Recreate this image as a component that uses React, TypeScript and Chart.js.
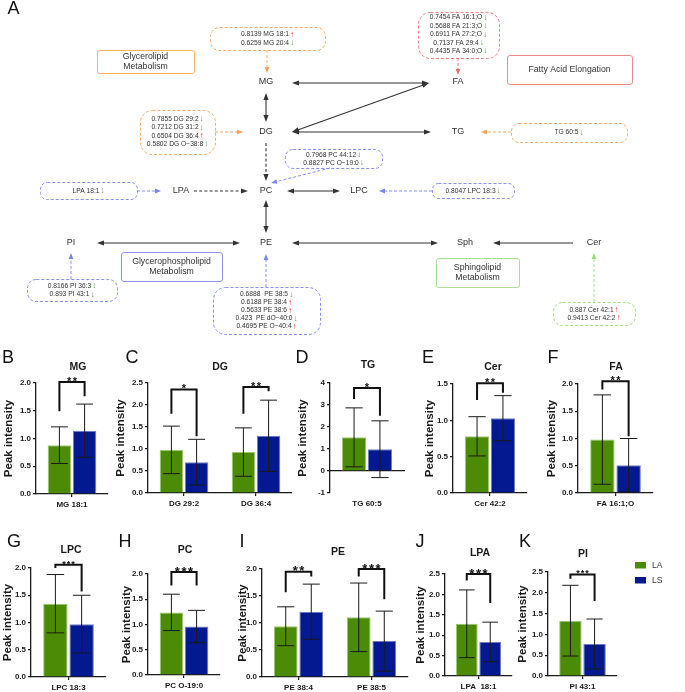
import React, { useEffect, useRef } from 'react';
import { Chart, registerables } from 'chart.js';
Chart.register(...registerables);

const FONT = '"Liberation Sans", Arial, Helvetica, "DejaVu Sans", sans-serif';
const GREEN = '#4c8b05';
const BLUE = '#04198f';
const INK = '#1a1a1a';
const TXT = '#333333';

// ---------------- Panel A data ----------------
const nodeLabels = ['MG', 'FA', 'DG', 'TG', 'LPA', 'PC', 'LPC', 'PI', 'PE', 'Sph', 'Cer'];
const mgAnno = [['0.8139 MG 18:1', 'up'], ['0.6259 MG 20:4', 'down']];
const faAnno = [['0.7454 FA 16:1;O', 'down'], ['0.5688 FA 21:3;O', 'down'], ['0.6911 FA 27:2;O', 'down'], ['0.7137 FA 29:4', 'down'], ['0.4435 FA 34:0;O', 'down']];
const tgAnno = [['TG 60:5', 'down']];
const dgAnno = [['0.7855 DG 29:2', 'down'], ['0.7212 DG 31:2', 'down'], ['0.6504 DG 36:4', 'up'], ['0.5802 DG O\u221238:8', 'down']];
const pcAnno = [['0.7968 PC 44:12', 'down'], ['0.8827 PC O\u221219:0', 'down']];
const lpaAnno = [['LPA 18:1', 'down']];
const lpcAnno = [['0.8047 LPC 18:3', 'down']];
const piAnno = [['0.8166 PI 36:3', 'down'], ['0.893 PI 43:1', 'down']];
const peAnno = [['0.6888  PE 38:5', 'down'], ['0.6188 PE 38:4', 'up'], ['0.5633 PE 38:6', 'up'], ['0.423  PE dO\u221240:0', 'down'], ['0.4695 PE O\u221240:4', 'up']];
const cerAnno = [['0.887 Cer 42:1', 'up'], ['0.9413 Cer 42:2', 'up']];
const pathwayNames = [['Glycerolipid', 'Metabolism'], ['Fatty Acid Elongation'], ['Glycerophospholipid', 'Metabolism'], ['Sphingolipid', 'Metabolism']];

// ---------------- Panels B–K data ----------------
const mgCats = ['MG 18:1'];
const mgLA = [0.88];
const mgLAsd = [0.33];
const mgLS = [1.14];
const mgLSsd = [0.48];
const mgSig = ['**'];
const mgBr = [[2.02, 1.49, 1.76]];

const dgCats = ['DG 29:2', 'DG 36:4'];
const dgLA = [0.98, 0.93];
const dgLAsd = [0.54, 0.55];
const dgLS = [0.7, 1.3];
const dgLSsd = [0.52, 0.81];
const dgSig = ['*', '**'];
const dgBr = [[2.35, 1.8, 1.29], [2.41, 1.8, 2.31]];

const tgCats = ['TG 60:5'];
const tgLA = [1.53];
const tgLAsd = [1.34];
const tgLS = [0.99];
const tgLSsd = [1.29];
const tgSig = ['*'];
const tgBr = [[3.77, 3.27, 2.51]];

const cerCats = ['Cer 42:2'];
const cerLA = [0.78];
const cerLAsd = [0.27];
const cerLS = [1.03];
const cerLSsd = [0.31];
const cerSig = ['**'];
const cerBr = [[1.51, 1.28, 1.38]];

const faCats = ['FA 16:1;O'];
const faLA = [0.98];
const faLAsd = [0.82];
const faLS = [0.51];
const faLSsd = [0.49];
const faSig = ['**'];
const faBr = [[2.05, 1.9, 1.04]];

const lpcCats = ['LPC 18:3'];
const lpcLA = [1.345];
const lpcLAsd = [0.535];
const lpcLS = [0.97];
const lpcLSsd = [0.53];
const lpcSig = ['***'];
const lpcBr = [[2.06, 2.0, 1.57]];

const pcCats = ['PC O-19:0'];
const pcLA = [1.24];
const pcLAsd = [0.36];
const pcLS = [0.96];
const pcLSsd = [0.32];
const pcSig = ['***'];
const pcBr = [[2.04, 1.77, 1.77]];

const peCats = ['PE 38:4', 'PE 38:5'];
const peLA = [0.94, 1.105];
const peLAsd = [0.36, 0.635];
const peLS = [1.21, 0.665];
const peLSsd = [0.51, 0.555];
const peSig = ['**', '***'];
const peBr = [[1.95, 1.57, 1.86], [2.0, 1.86, 1.44]];

const lpaCats = ['LPA  18:1'];
const lpaLA = [1.28];
const lpaLAsd = [0.83];
const lpaLS = [0.835];
const lpaLSsd = [0.485];
const lpaSig = ['***'];
const lpaBr = [[2.5, 2.34, 1.79]];

const piCats = ['PI 43:1'];
const piLA = [1.33];
const piLAsd = [0.85];
const piLS = [0.77];
const piLSsd = [0.6];
const piSig = ['***'];
const piBr = [[2.44, 2.34, 1.8]];

const groupNames = ['LA', 'LS'];

// ---------------- layout ----------------
const panels: any[] = [
  { letter: 'B', lp: [8, 358], title: 'MG', tp: [78, 367], cats: mgCats, la: mgLA, laSd: mgLAsd, ls: mgLS, lsSd: mgLSsd, sig: mgSig, br: mgBr, area: { l: 36, r: 108, t: 383, b: 494 }, y: [0, 2, 0.5, 1], ytx: 9, sf: 11, padR: 8 },
  { letter: 'C', lp: [132, 358], title: 'DG', tp: [220, 367], cats: dgCats, la: dgLA, laSd: dgLAsd, ls: dgLS, lsSd: dgLSsd, sig: dgSig, br: dgBr, area: { l: 148, r: 292, t: 383, b: 493 }, y: [0, 2.5, 0.5, 1], ytx: 121, sf: 11, padR: 8 },
  { letter: 'D', lp: [302, 358], title: 'TG', tp: [368, 365], cats: tgCats, la: tgLA, laSd: tgLAsd, ls: tgLS, lsSd: tgLSsd, sig: tgSig, br: tgBr, area: { l: 330, r: 404, t: 383, b: 493 }, y: [-1, 4, 1, 0], ytx: 303, sf: 11, padR: 8, zeroAxis: true },
  { letter: 'E', lp: [428, 358], title: 'Cer', tp: [493, 367], cats: cerCats, la: cerLA, laSd: cerLAsd, ls: cerLS, lsSd: cerLSsd, sig: cerSig, br: cerBr, area: { l: 453, r: 527, t: 384, b: 493 }, y: [0, 1.5, 0.5, 1], ytx: 430, sf: 11, padR: 8 },
  { letter: 'F', lp: [553, 358], title: 'FA', tp: [616, 367], cats: faCats, la: faLA, laSd: faLAsd, ls: faLS, lsSd: faLSsd, sig: faSig, br: faBr, area: { l: 578, r: 653, t: 384, b: 493 }, y: [0, 2, 0.5, 1], ytx: 552, sf: 11, padR: 8 },
  { letter: 'G', lp: [14, 542], title: 'LPC', tp: [71, 550], cats: lpcCats, la: lpcLA, laSd: lpcLAsd, ls: lpcLS, lsSd: lpcLSsd, sig: lpcSig, br: lpcBr, area: { l: 31, r: 106, t: 568, b: 677 }, y: [0, 2, 0.5, 1], ytx: 8, sf: 9, padR: 8 },
  { letter: 'H', lp: [125, 542], title: 'PC', tp: [185, 550], cats: pcCats, la: pcLA, laSd: pcLAsd, ls: pcLS, lsSd: pcLSsd, sig: pcSig, br: pcBr, area: { l: 148, r: 220, t: 574, b: 675 }, y: [0, 2, 0.5, 1], ytx: 127, sf: 13, padR: 8 },
  { letter: 'I', lp: [242, 542], title: 'PE', tp: [338, 552], cats: peCats, la: peLA, laSd: peLAsd, ls: peLS, lsSd: peLSsd, sig: peSig, br: peBr, area: { l: 262, r: 408, t: 569, b: 677 }, y: [0, 2, 0.5, 1], ytx: 243, sf: 13, padR: 8 },
  { letter: 'J', lp: [420, 542], title: 'LPA', tp: [480, 553], cats: lpaCats, la: lpaLA, laSd: lpaLAsd, ls: lpaLS, lsSd: lpaLSsd, sig: lpaSig, br: lpaBr, area: { l: 445, r: 512, t: 574, b: 676 }, y: [0, 2.5, 0.5, 1], ytx: 421, sf: 13, padR: 8 },
  { letter: 'K', lp: [525, 542], title: 'PI', tp: [583, 554], cats: piCats, la: piLA, laSd: piLAsd, ls: piLS, lsSd: piLSsd, sig: piSig, br: piBr, area: { l: 548, r: 617, t: 572, b: 676 }, y: [0, 2.5, 0.5, 1], ytx: 523, sf: 9, padR: 64, legend: true },
];

const PAD_L = 45;
const PAD_T = 48;
const PAD_B = 20;

function BarPanel({ p }: { p: any }) {
  const ref = useRef<HTMLCanvasElement>(null);
  const cl = p.area.l - PAD_L;
  const ct = p.area.t - PAD_T;
  const cw = p.area.r + p.padR - cl;
  const ch = p.area.b + PAD_B - ct;
  useEffect(() => {
    const canvas = ref.current!;
    const means = [p.la, p.ls];
    const sds = [p.laSd, p.lsSd];
    const X = (x: number) => x - cl;
    const Y = (y: number) => y - ct;
    const plugin = {
      id: 'extras',
      afterDatasetsDraw(chart: any) {
        const ctx = chart.ctx;
        const ys = chart.scales.y;
        ctx.save();
        ctx.strokeStyle = INK;
        ctx.lineWidth = 1;
        [0, 1].forEach((di) => {
          const meta = chart.getDatasetMeta(di);
          meta.data.forEach((bar: any, i: number) => {
            const m = means[di][i];
            const s = sds[di][i];
            const x = bar.x;
            const hw = bar.width * 0.36;
            const yHi = ys.getPixelForValue(m + s);
            const yLo = ys.getPixelForValue(m - s);
            ctx.beginPath();
            ctx.moveTo(x, yLo);
            ctx.lineTo(x, yHi);
            ctx.moveTo(x - hw, yHi);
            ctx.lineTo(x + hw, yHi);
            ctx.moveTo(x - hw, yLo);
            ctx.lineTo(x + hw, yLo);
            ctx.stroke();
          });
        });
        ctx.restore();
      },
      afterDraw(chart: any) {
        const ctx = chart.ctx;
        const ys = chart.scales.y;
        const m0 = chart.getDatasetMeta(0);
        const m1 = chart.getDatasetMeta(1);
        ctx.save();
        // significance brackets
        p.br.forEach((b: number[], i: number) => {
          const xL = m0.data[i].x;
          const xR = m1.data[i].x;
          const yT = ys.getPixelForValue(b[0]);
          const yL = ys.getPixelForValue(b[1]);
          const yR = ys.getPixelForValue(b[2]);
          ctx.strokeStyle = '#111';
          ctx.lineWidth = 2;
          ctx.lineJoin = 'miter';
          ctx.lineCap = 'butt';
          ctx.beginPath();
          ctx.moveTo(xL, yL);
          ctx.lineTo(xL, yT);
          ctx.lineTo(xR, yT);
          ctx.lineTo(xR, yR);
          ctx.stroke();
          const stars = p.sig[i];
          ctx.font = `bold ${p.sf}px ${FONT}`;
          ctx.fillStyle = '#111';
          ctx.textAlign = 'left';
          ctx.textBaseline = 'alphabetic';
          const cw1 = ctx.measureText('*').width;
          const gap = p.sf * 0.12;
          const tot = stars.length * cw1 + (stars.length - 1) * gap;
          let sx = (xL + xR) / 2 - tot / 2;
          const by = yT - 1.8 + 0.42 * p.sf;
          for (let k = 0; k < stars.length; k++) {
            ctx.fillText('*', sx, by);
            sx += cw1 + gap;
          }
        });
        // title
        ctx.fillStyle = INK;
        ctx.textAlign = 'center';
        ctx.textBaseline = 'middle';
        ctx.font = `bold 10.5px ${FONT}`;
        ctx.fillText(p.title, X(p.tp[0]), Y(p.tp[1]));
        // letter
        ctx.font = `18px ${FONT}`;
        ctx.fillStyle = '#111';
        ctx.fillText(p.letter, X(p.lp[0]), Y(p.lp[1]));
        // y title
        ctx.save();
        ctx.translate(X(p.ytx), Y((p.area.t + p.area.b) / 2));
        ctx.rotate(-Math.PI / 2);
        ctx.font = `bold 11.5px ${FONT}`;
        ctx.fillStyle = INK;
        ctx.fillText('Peak intensity', 0, 0);
        ctx.restore();
        // legend
        if (p.legend) {
          const cols = [GREEN, BLUE];
          groupNames.forEach((g, i) => {
            ctx.fillStyle = cols[i];
            ctx.fillRect(X(635), Y(562 + i * 15), 11, 6.5);
            ctx.fillStyle = TXT;
            ctx.font = `8.5px ${FONT}`;
            ctx.textAlign = 'left';
            ctx.textBaseline = 'middle';
            ctx.fillText(g, X(652), Y(565.5 + i * 15));
          });
        }
        ctx.restore();
      },
    };
    const tickFont = { family: FONT, size: 8, weight: 'bold' as const };
    const scales: any = {
      y: {
        min: p.y[0],
        max: p.y[1],
        ticks: { stepSize: p.y[2], callback: (v: any) => Number(v).toFixed(p.y[3]), font: tickFont, color: INK, padding: 2 },
        grid: { display: true, drawOnChartArea: false, drawTicks: true, tickLength: 3, color: INK, lineWidth: 1.2 },
        border: { display: true, color: INK, width: 1.3 },
        afterFit: (s: any) => { s.width = PAD_L; },
      },
    };
    if (p.zeroAxis) {
      scales.x = {
        type: 'category',
        position: { y: 0 },
        ticks: { display: false },
        grid: { display: false, drawTicks: false },
        border: { display: true, color: INK, width: 1.3 },
      };
      scales.x2 = {
        type: 'category',
        labels: p.cats,
        position: 'bottom',
        ticks: { font: tickFont, color: INK, padding: 6 },
        grid: { display: false, drawTicks: false },
        border: { display: false },
        afterFit: (s: any) => { s.height = PAD_B; },
      };
    } else {
      scales.x = {
        type: 'category',
        position: 'bottom',
        ticks: { font: tickFont, color: INK, padding: 3 },
        grid: { display: true, drawOnChartArea: false, drawTicks: true, tickLength: 3, offset: false, color: INK, lineWidth: 1.2 },
        border: { display: true, color: INK, width: 1.3 },
        afterFit: (s: any) => { s.height = PAD_B; },
      };
    }
    const chart = new Chart(canvas, {
      type: 'bar',
      data: {
        labels: p.cats,
        datasets: [
          { label: groupNames[0], data: p.la, backgroundColor: GREEN, borderColor: '#9cc870', borderWidth: 1, categoryPercentage: 0.7, barPercentage: 0.93 },
          { label: groupNames[1], data: p.ls, backgroundColor: BLUE, borderColor: '#6f7ac4', borderWidth: 1, categoryPercentage: 0.7, barPercentage: 0.93 },
        ],
      },
      options: {
        responsive: false,
        animation: false,
        layout: { padding: { top: PAD_T, right: p.padR, left: 0, bottom: 0 } },
        plugins: { legend: { display: false }, tooltip: { enabled: false }, title: { display: false } },
        scales,
      },
      plugins: [plugin],
    } as any);
    return () => chart.destroy();
  }, []);
  return <canvas ref={ref} width={cw} height={ch} style={{ position: 'absolute', left: cl, top: ct, width: cw, height: ch }} />;
}

// ---------------- Panel A ----------------
const ORANGE_D = '#f4a35a';
const RED_D = '#ee6f72';
const BLUE_D = '#7a84f2';
const GREEN_D = '#9ad97a';

const nodePos: Record<string, number[]> = {
  MG: [266, 82], FA: [458, 82], DG: [266, 132], TG: [458, 132], LPA: [181, 191], PC: [266, 191],
  LPC: [359, 191], PI: [71, 243], PE: [266, 243], Sph: [465, 243], Cer: [594, 243],
};

const annoBoxes = [
  { lines: mgAnno, color: ORANGE_D, rect: [210, 27, 325, 50], y0: 34.5, dy: 8.5, arrow: [[267, 50], [267, 73]] },
  { lines: faAnno, color: RED_D, rect: [418, 12, 499, 58], y0: 17.5, dy: 8.4, arrow: [[458, 58], [458, 75]] },
  { lines: tgAnno, color: ORANGE_D, rect: [511, 123, 627, 142], y0: 132.5, dy: 0, arrow: [[511, 132], [481, 132]] },
  { lines: dgAnno, color: ORANGE_D, rect: [140, 110, 215, 154], y0: 119, dy: 8.4, arrow: [[215, 132], [243, 132]] },
  { lines: pcAnno, color: BLUE_D, rect: [285, 149, 382, 168], y0: 155, dy: 8, arrow: [[330, 168], [271, 183]] },
  { lines: lpaAnno, color: BLUE_D, rect: [40, 182, 137, 199], y0: 191, dy: 0, arrow: [[137, 191], [161, 191]] },
  { lines: lpcAnno, color: BLUE_D, rect: [432, 183, 514, 198], y0: 191, dy: 0, arrow: [[432, 191], [379, 191]] },
  { lines: piAnno, color: BLUE_D, rect: [27, 279, 117, 301], y0: 286, dy: 8.5, arrow: [[71, 279], [71, 253]] },
  { lines: peAnno, color: BLUE_D, rect: [213, 287, 320, 334], y0: 294.5, dy: 8, arrow: [[266, 287], [266, 254]] },
  { lines: cerAnno, color: GREEN_D, rect: [553, 302, 635, 325], y0: 310, dy: 8, arrow: [[594, 302], [594, 253]] },
];

const pathBoxes = [
  { color: '#f5b06a', rect: [97, 50, 194, 73] },
  { color: '#ef8a8c', rect: [507, 55, 632, 84] },
  { color: '#8e94ee', rect: [121, 252, 222, 281] },
  { color: '#acdf95', rect: [436, 258, 519, 287] },
];

const links = [
  { from: [266, 93], to: [266, 122], heads: 2 },
  { from: [292, 83], to: [429, 83], heads: 2 },
  { from: [292, 132], to: [429, 83], heads: 2 },
  { from: [292, 132], to: [431, 132], heads: 2 },
  { from: [287, 191], to: [340, 191], heads: 2 },
  { from: [266, 200], to: [266, 233], heads: 2 },
  { from: [97, 243], to: [240, 243], heads: 2 },
  { from: [292, 243], to: [438, 243], heads: 2 },
  { from: [573, 243], to: [493, 243], heads: 1 },
  { from: [266, 143], to: [266, 181], heads: 1, dashed: true },
  { from: [194, 191], to: [248, 191], heads: 1, dashed: true },
];

function PathwayPanel() {
  const ref = useRef<HTMLCanvasElement>(null);
  useEffect(() => {
    const canvas = ref.current!;
    const plugin = {
      id: 'pathway',
      afterDraw(chart: any) {
        const ctx = chart.ctx;
        const xs = chart.scales.x;
        const ys = chart.scales.y;
        const PX = (v: number) => xs.getPixelForValue(v);
        const PY = (v: number) => ys.getPixelForValue(v);
        ctx.save();
        const head = (x1: number, y1: number, x2: number, y2: number, len: number, hw: number, color: string) => {
          const a = Math.atan2(y2 - y1, x2 - x1);
          ctx.fillStyle = color;
          ctx.beginPath();
          ctx.moveTo(x2, y2);
          ctx.lineTo(x2 - len * Math.cos(a) + hw * Math.sin(a), y2 - len * Math.sin(a) - hw * Math.cos(a));
          ctx.lineTo(x2 - len * Math.cos(a) - hw * Math.sin(a), y2 - len * Math.sin(a) + hw * Math.cos(a));
          ctx.closePath();
          ctx.fill();
        };
        const arrow = (f: number[], t: number[], heads: number, color: string, dash: number[] | null, len: number, hw: number, lw: number) => {
          const x1 = PX(f[0]), y1 = PY(f[1]), x2 = PX(t[0]), y2 = PY(t[1]);
          const d = Math.hypot(x2 - x1, y2 - y1);
          const ux = (x2 - x1) / d, uy = (y2 - y1) / d;
          const sx = heads === 2 ? x1 + ux * (len - 1) : x1;
          const sy = heads === 2 ? y1 + uy * (len - 1) : y1;
          const ex = x2 - ux * (len - 1), ey = y2 - uy * (len - 1);
          ctx.strokeStyle = color;
          ctx.lineWidth = lw;
          ctx.setLineDash(dash || []);
          ctx.beginPath();
          ctx.moveTo(sx, sy);
          ctx.lineTo(ex, ey);
          ctx.stroke();
          ctx.setLineDash([]);
          head(x1, y1, x2, y2, len, hw, color);
          if (heads === 2) head(x2, y2, x1, y1, len, hw, color);
        };
        // "A"
        ctx.fillStyle = '#111';
        ctx.font = `18px ${FONT}`;
        ctx.textAlign = 'center';
        ctx.textBaseline = 'middle';
        ctx.fillText('A', PX(13.5), PY(9));
        // black links
        links.forEach((l) => arrow(l.from, l.to, l.heads, '#333', l.dashed ? [3, 2.2] : null, 7, 2.6, 1.1));
        // nodes
        ctx.fillStyle = TXT;
        ctx.font = `9px ${FONT}`;
        ctx.textAlign = 'center';
        ctx.textBaseline = 'middle';
        nodeLabels.forEach((n) => {
          const pos = nodePos[n];
          ctx.fillText(n, PX(pos[0]), PY(pos[1]));
        });
        // pathway boxes
        pathBoxes.forEach((b, i) => {
          const [x1, y1, x2, y2] = b.rect;
          ctx.strokeStyle = b.color;
          ctx.lineWidth = 1;
          ctx.beginPath();
          ctx.roundRect(PX(x1) + 0.5, PY(y1) + 0.5, PX(x2) - PX(x1), PY(y2) - PY(y1), 2.5);
          ctx.stroke();
          const lines = pathwayNames[i];
          const cy = (y1 + y2) / 2;
          ctx.fillStyle = TXT;
          ctx.font = `8.7px ${FONT}`;
          ctx.textAlign = 'center';
          ctx.textBaseline = 'middle';
          lines.forEach((ln, k) => {
            ctx.fillText(ln, PX((x1 + x2) / 2), PY(cy + (k - (lines.length - 1) / 2) * 10));
          });
        });
        // annotation boxes
        annoBoxes.forEach((b) => {
          const [x1, y1, x2, y2] = b.rect;
          const h = y2 - y1;
          ctx.strokeStyle = b.color;
          ctx.lineWidth = 0.9;
          ctx.setLineDash([3, 2]);
          ctx.beginPath();
          ctx.roundRect(PX(x1) + 0.5, PY(y1) + 0.5, PX(x2) - PX(x1), PY(y2) - PY(y1), Math.min(12, h * 0.4));
          ctx.stroke();
          ctx.setLineDash([]);
          arrow(b.arrow[0], b.arrow[1], 1, b.color, [3, 2], 6, 2.4, 0.9);
          const cx = (x1 + x2) / 2;
          b.lines.forEach((ln, k) => {
            const txt = ln[0];
            const up = ln[1] === 'up';
            const glyph = up ? '\u2191' : '\u2193';
            ctx.font = `6.7px ${FONT}`;
            const tw = ctx.measureText(txt).width;
            ctx.font = `8px ${FONT}`;
            const aw = ctx.measureText(glyph).width;
            const start = PX(cx) - (tw + 1 + aw) / 2;
            const yy = PY(b.y0 + k * b.dy);
            ctx.textAlign = 'left';
            ctx.textBaseline = 'middle';
            ctx.font = `6.7px ${FONT}`;
            ctx.fillStyle = TXT;
            ctx.fillText(txt, start, yy);
            ctx.font = `8px ${FONT}`;
            ctx.fillStyle = up ? '#f03a3a' : '#3f9a34';
            ctx.fillText(glyph, start + tw + 1, yy);
          });
        });
        ctx.restore();
      },
    };
    const chart = new Chart(canvas, {
      type: 'scatter',
      data: { datasets: [] },
      options: {
        responsive: false,
        animation: false,
        layout: { padding: 0 },
        plugins: { legend: { display: false }, tooltip: { enabled: false } },
        scales: {
          x: { type: 'linear', min: 0, max: 685, display: false },
          y: { type: 'linear', min: 0, max: 340, reverse: true, display: false },
        },
      },
      plugins: [plugin],
    } as any);
    return () => chart.destroy();
  }, []);
  return <canvas ref={ref} width={685} height={340} style={{ position: 'absolute', left: 0, top: 0, width: 685, height: 340 }} />;
}

export default function App() {
  return (
    <div style={{ position: 'absolute', left: 0, top: 0, width: 685, height: 692, background: '#fff', overflow: 'hidden' }}>
      <PathwayPanel />
      {panels.map((p) => (
        <BarPanel key={p.letter} p={p} />
      ))}
    </div>
  );
}
